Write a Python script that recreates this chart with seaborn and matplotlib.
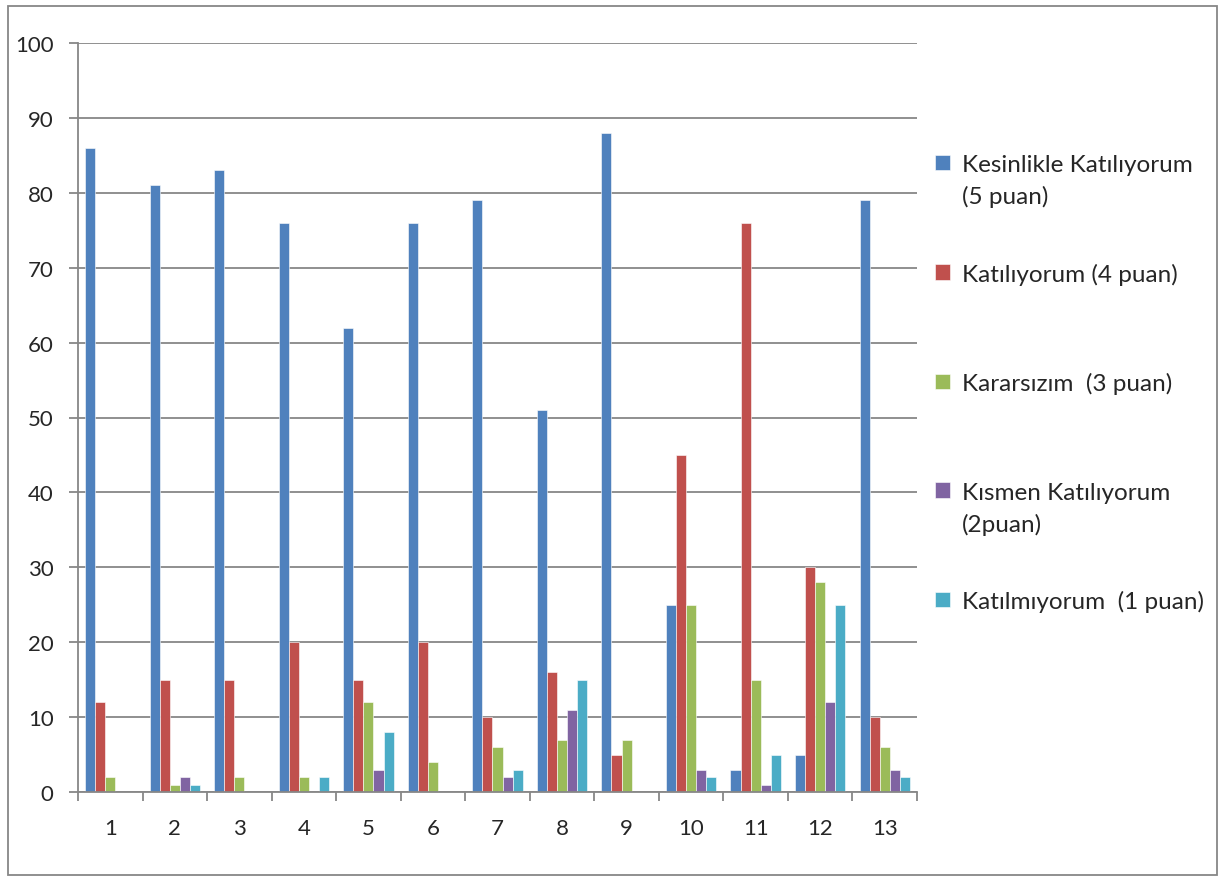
import pandas as pd
import numpy as np

import seaborn as sns
import matplotlib.pyplot as plt
from matplotlib.patches import Rectangle
from matplotlib.ticker import FixedLocator

# data
items = [str(i) for i in range(1, 14)]
series = [
    'Kesinlikle Katılıyorum (5 puan)',
    'Katılıyorum (4 puan)',
    'Kararsızım  (3 puan)',
    'Kısmen Katılıyorum (2puan)',
    'Katılmıyorum  (1 puan)',
]
# how the legend wraps the long names: first line / second line
legend_lines = [
    ('Kesinlikle Katılıyorum', '(5 puan)'),
    ('Katılıyorum (4 puan)', ''),
    ('Kararsızım  (3 puan)', ''),
    ('Kısmen Katılıyorum', '(2puan)'),
    ('Katılmıyorum  (1 puan)', ''),
]
kesinlikle = [86, 81, 83, 76, 62, 76, 79, 51, 88, 25, 3, 5, 79]
katiliyorum = [12, 15, 15, 20, 15, 20, 10, 16, 5, 45, 76, 30, 10]
kararsizim = [2, 1, 2, 2, 12, 4, 6, 7, 7, 25, 15, 28, 6]
kismen = [0, 2, 0, 0, 3, 0, 2, 11, 0, 3, 1, 12, 3]
katilmiyorum = [0, 1, 0, 2, 8, 0, 3, 15, 0, 2, 5, 25, 2]

colors = ['#4F81BD', '#C0504D', '#9BBB59', '#8064A2', '#4BACC6']

rows = []
for name, vals in zip(series, [kesinlikle, katiliyorum, kararsizim, kismen, katilmiyorum]):
    for it, v in zip(items, vals):
        rows.append({'item': it, 'series': name, 'value': v})
df = pd.DataFrame(rows)

sns.set_style('white')
plt.rcParams['font.family'] = ['Lato', 'DejaVu Sans']
grey = '#878787'

fig = plt.figure(figsize=(12.24, 8.79), dpi=100)
ax = fig.add_axes([78 / 1224, 1 - 793 / 879, (917 - 78) / 1224, (793 - 44) / 879])

sns.barplot(
    data=df, x='item', y='value', hue='series',
    order=items, hue_order=series, palette=colors,
    width=0.78, saturation=1, errorbar=None,
    edgecolor='white', linewidth=0.4, ax=ax
)

ax.set_ylim(0, 100)
ax.set_xlim(-0.5, len(items) - 0.5)
ax.set_yticks(np.arange(0, 101, 10))
ax.yaxis.grid(True, color=grey, linewidth=1.3)
ax.set_axisbelow(True)
ax.set_xlabel('')
ax.set_ylabel('')

for s in ['top', 'right']:
    ax.spines[s].set_visible(False)
for s in ['left', 'bottom']:
    ax.spines[s].set_color(grey)
    ax.spines[s].set_linewidth(1.3)

ax.tick_params(axis='y', direction='out', length=6.5, width=1.3, color=grey,
               pad=11, labelsize=16, left=True)
ax.tick_params(axis='x', which='major', length=0, pad=19, labelsize=16)
ax.xaxis.set_minor_locator(FixedLocator(np.arange(-0.5, len(items), 1)))
ax.tick_params(axis='x', which='minor', direction='out', length=6.5, width=1.3,
               color=grey, bottom=True)

# legend: first lines in the legend, wrapped second lines as text below them
handles, _ = ax.get_legend_handles_labels()
leg = ax.legend(handles, [l[0] for l in legend_lines], loc='upper left',
                bbox_to_anchor=(935 / 1224, 1 - 155 / 879),
                bbox_transform=fig.transFigure, frameon=False, fontsize=17.5,
                handlelength=0.6, handleheight=0.6, handletextpad=0.5,
                labelspacing=3.6, borderaxespad=0, borderpad=0)

fig.canvas.draw()
renderer = fig.canvas.get_renderer()
for txt, (first, second) in zip(leg.get_texts(), legend_lines):
    if second:
        bb = txt.get_window_extent(renderer)
        fig.text(bb.x0 / fig.bbox.width, (bb.y0 - 32) / fig.bbox.height, second,
                 fontsize=17.5, va='bottom', ha='left')

fig.patches.append(Rectangle((8 / 1224, 3 / 879), (1217 - 8) / 1224, (876 - 7) / 879,
                             transform=fig.transFigure, fill=False,
                             edgecolor=grey, linewidth=1.3))

plt.savefig('out.png', dpi=100)
